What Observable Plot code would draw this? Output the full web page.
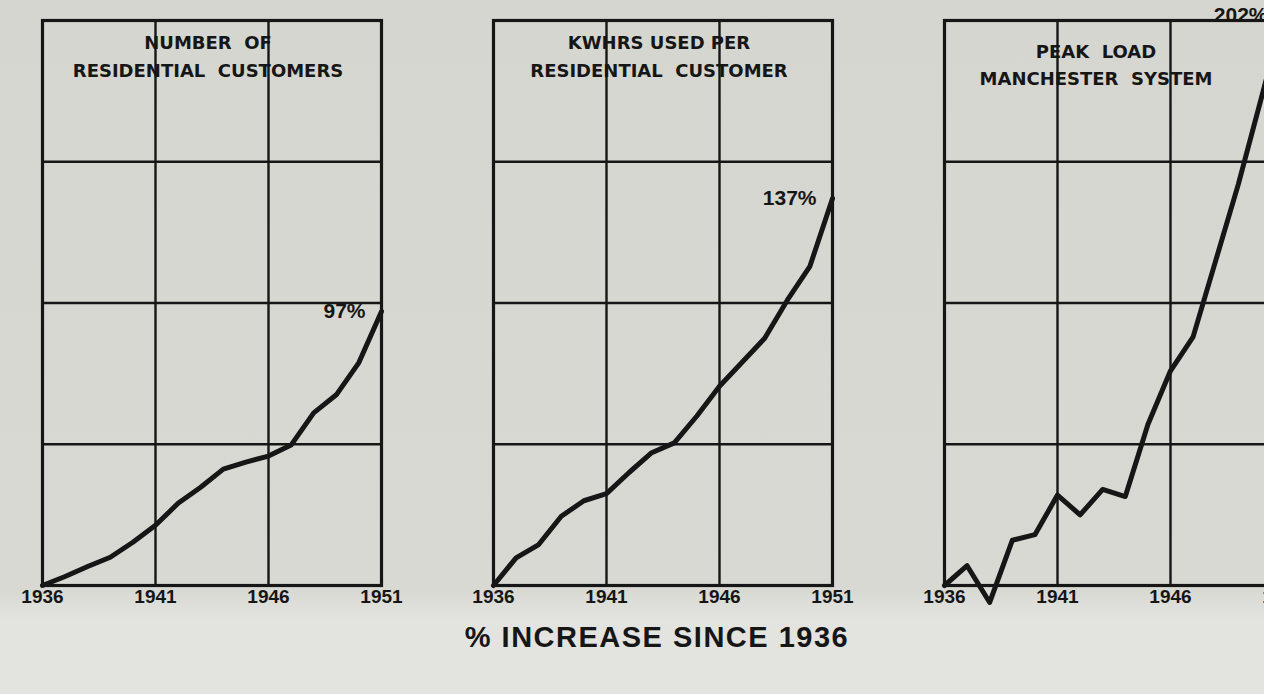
<!DOCTYPE html>
<html>
<head>
<meta charset="utf-8">
<script src="https://cdn.jsdelivr.net/npm/d3@7"></script>
<script src="https://cdn.jsdelivr.net/npm/@observablehq/plot@0.6"></script>
<style>
  html, body { margin: 0; padding: 0; width: 1264px; height: 694px; overflow: hidden;
    background: linear-gradient(#d6d6d1 0px, #d9d9d4 590px, #e3e3df 620px, #e3e3df 694px); }
  #chart { position: absolute; left: 0; top: 0; width: 1290px; }
  #caption { position: absolute; left: 0; top: 621px; width: 1314px; text-align: center;
    font-family: "Liberation Sans", Arial, sans-serif; font-weight: bold; font-size: 29px;
    letter-spacing: 1.5px; color: #161616; }
</style>
</head>
<body>
<div id="chart"></div>
<div id="caption">% INCREASE SINCE 1936</div>
<script>
// ---- data ----
const years = [1936, 1937, 1938, 1939, 1940, 1941, 1942, 1943, 1944, 1945, 1946, 1947, 1948, 1949, 1950, 1951];
const panels = ["NUMBER  OF\nRESIDENTIAL  CUSTOMERS", "KWHRS USED PER\nRESIDENTIAL  CUSTOMER", "PEAK  LOAD\nMANCHESTER  SYSTEM"];
const customers = [0, 3.2, 6.7, 10, 15.3, 21.3, 29.1, 34.8, 41.2, 43.7, 45.8, 49.7, 61.1, 67.5, 78.9, 97];
const kwhrsPerCustomer = [0, 9.8, 14.5, 24.5, 30, 32.5, 40, 47, 50.5, 60, 70.5, 79, 87.5, 101, 113, 137];
const peakLoad = [0, 7, -6, 16, 18, 32, 25, 34, 31.5, 57, 76, 88, 115, 142, 172, 202];
const endLabels = ["97%", "137%", "202%"];
const xTicks = [1936, 1941, 1946, 1951];
const xGrid = [1941, 1946];
const yGrid = [50, 100, 150];

const series = [customers, kwhrsPerCustomer, peakLoad];
const table = panels.flatMap((p, i) => years.map((yr, j) => ({panel: p, year: yr, value: series[i][j]})));
const ends = panels.map((p, i) => ({panel: p, year: years[years.length - 1], value: series[i][series[i].length - 1], label: endLabels[i]}));

const ink = "#161616";
const fontFamily = "'Liberation Sans', Arial, sans-serif";
const titleFont = "'DejaVu Sans', sans-serif";

const chart = Plot.plot({
  width: 1290,
  height: 615,
  marginLeft: 41,
  marginRight: 6,
  marginTop: 20,
  marginBottom: 30,
  style: {background: "transparent", fontFamily, color: ink, maxWidth: "none"},
  fx: {domain: panels, paddingInner: 0.248, paddingOuter: 0, axis: null, label: null},
  x: {domain: [1936, 1951], axis: null},
  y: {domain: [0, 200], axis: null},
  marks: [
    Plot.ruleX(xGrid, {stroke: ink, strokeWidth: 2.4}),
    Plot.ruleY(yGrid, {stroke: ink, strokeWidth: 2.4}),
    Plot.frame({stroke: ink, strokeWidth: 3.2}),
    Plot.axisX({ticks: xTicks, tickSize: 0, tickPadding: 4, tickFormat: d => String(d),
      fontSize: 19, fontWeight: "bold", fill: ink, label: null}),
    Plot.text(panels.slice(0, 2), {fx: d => d, text: d => d, frameAnchor: "top", dy: 9, dx: -4,
      lineHeight: 1.55, fontSize: 18, fontWeight: "bold", fill: ink, fontFamily: titleFont, ariaLabel: "panel-title"}),
    Plot.text(panels.slice(2), {fx: d => d, text: d => d, frameAnchor: "top", dy: 18, dx: -18,
      lineHeight: 1.5, fontSize: 18, fontWeight: "bold", fill: ink, fontFamily: titleFont, ariaLabel: "panel-title"}),
    Plot.line(table, {fx: "panel", x: "year", y: "value", stroke: ink, strokeWidth: 5,
      curve: "linear", strokeLinejoin: "round", strokeLinecap: "round", clip: false}),
    Plot.text(ends, {fx: "panel", x: "year", y: "value", text: "label", textAnchor: "end", dx: -16,
      fontSize: 21, fontWeight: "bold", fill: ink})
  ]
});

d3.select(chart).selectAll('g[aria-label="panel-title"] text').style("letter-spacing", "4.2px");
d3.select(chart).style("overflow", "visible");
document.getElementById("chart").appendChild(chart);
</script>
</body>
</html>
